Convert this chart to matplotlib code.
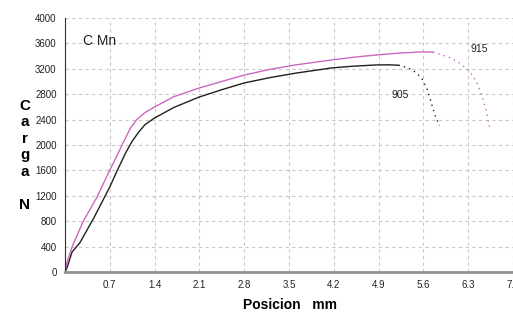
import matplotlib
matplotlib.use("Agg")
import matplotlib.pyplot as plt

plt.rcParams["font.family"] = ["Liberation Sans", "DejaVu Sans"]

# curve 905 (black): loading part and the final drop
x_905 = [0.0, 0.03, 0.11, 0.23, 0.45, 0.70, 0.82, 0.95, 1.05, 1.15, 1.25, 1.40,
         1.70, 2.10, 2.45, 2.80, 3.20, 3.60, 4.17, 4.50, 4.87, 5.05, 5.21]
y_905 = [0, 63, 315, 457, 850, 1339, 1606, 1880, 2060, 2200, 2320, 2425,
         2590, 2756, 2870, 2976, 3060, 3130, 3213, 3240, 3260, 3262, 3255]
x_905_drop = [5.21, 5.35, 5.47, 5.57, 5.65, 5.71, 5.78, 5.85]
y_905_drop = [3255, 3220, 3150, 3055, 2900, 2709, 2472, 2300]

# curve 915 (pink)
x_915 = [0.0, 0.03, 0.11, 0.28, 0.50, 0.70, 0.78, 0.92, 1.02, 1.12, 1.25, 1.40,
         1.70, 2.10, 2.45, 2.80, 3.20, 3.60, 4.17, 4.50, 4.87, 5.20, 5.57, 5.75]
y_915 = [0, 150, 394, 787, 1180, 1606, 1764, 2060, 2260, 2400, 2510, 2598,
         2760, 2898, 3000, 3100, 3190, 3260, 3339, 3380, 3417, 3445, 3465, 3462]
x_915_drop = [5.75, 5.99, 6.15, 6.30, 6.42, 6.50, 6.58, 6.64]
y_915_drop = [3462, 3386, 3300, 3181, 3020, 2819, 2551, 2252]

x_ticks = [0.7, 1.4, 2.1, 2.8, 3.5, 4.2, 4.9, 5.6, 6.3, 7.0]
x_tick_labels = ["0.7", "1.4", "2.1", "2.8", "3.5", "4.2", "4.9", "5.6", "6.3", "7.0"]
y_ticks = list(range(0, 4001, 400))

BLACK = "#202020"
PINK = "#cc66c4"

fig = plt.figure(figsize=(5.13, 3.2), dpi=100)
ax = fig.add_axes([0.1267, 0.15, 0.8733, 0.794])

ax.plot(x_905, y_905, color=BLACK, lw=1.0)
ax.plot(x_905_drop, y_905_drop, color=BLACK, lw=1.0, ls=(0, (1, 3)))
ax.plot(x_915, y_915, color=PINK, lw=1.0)
ax.plot(x_915_drop, y_915_drop, color=PINK, lw=1.0, ls=(0, (1, 3)))

ax.set_xlim(0, 7.0)
ax.set_ylim(0, 4000)
ax.set_xticks(x_ticks)
ax.set_xticklabels(x_tick_labels)
ax.set_yticks(y_ticks)
ax.tick_params(length=0, labelsize=7, colors="#222222", pad=6)
ax.grid(True, color="#c8c8c8", ls=(0, (3, 3)), lw=0.8)

for side in ("top", "right"):
    ax.spines[side].set_visible(False)
ax.spines["left"].set_color("#303030")
ax.spines["left"].set_linewidth(0.8)
ax.spines["bottom"].set_color("#909090")
ax.spines["bottom"].set_linewidth(2.0)

ax.text(0.28, 3640, "C Mn", fontsize=10, va="center", color="#222222")
ax.text(6.33, 3510, "915", fontsize=7.5, va="center", color="#222222")
ax.text(5.10, 2790, "905", fontsize=7.5, va="center", color="#222222")

fig.text(25 / 513, 1 - 99 / 320, "C\na\nr\ng\na\n\nN", fontsize=11, fontweight="bold",
         ha="center", va="top", linespacing=1.22)
fig.text(290 / 513, 1 - 305 / 320, "Posicion   mm", fontsize=10, fontweight="bold",
         ha="center", va="center")

fig.savefig("out.png", dpi=100)
